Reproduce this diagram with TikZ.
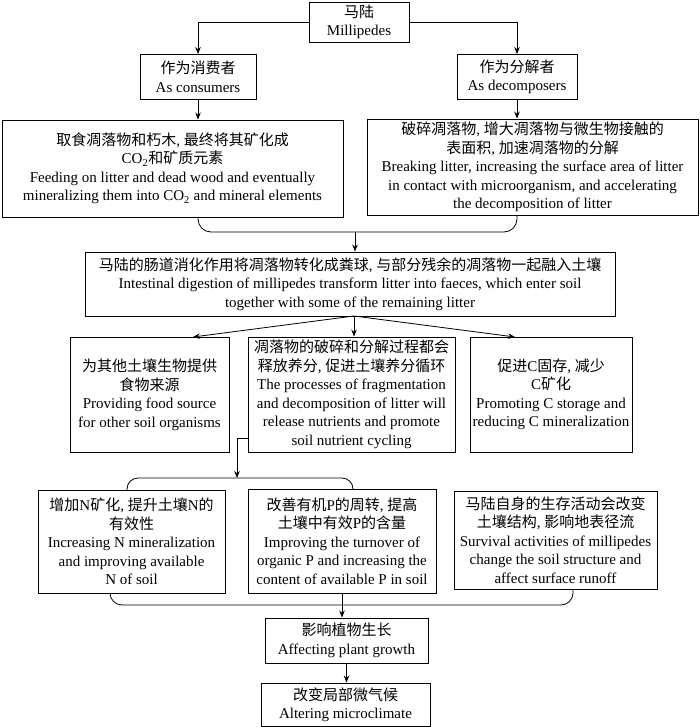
\documentclass[tikz,border=0pt]{standalone}
\usepackage{fontspec}
\setmainfont{Liberation Serif}
\newfontfamily\cjk{Noto Sans CJK SC}
\newcommand\zh[1]{{\cjk #1}}
\usetikzlibrary{arrows.meta}
\begin{document}
\begin{tikzpicture}[x=1pt,y=-1pt,
  box/.style={draw,line width=0.9pt,inner sep=0pt,align=center,
    font=\fontsize{15}{18.5}\selectfont},
  arr/.style={line width=0.8pt,-{Stealth[length=7pt,width=5.5pt]}},
  brace/.style={line width=0.8pt,rounded corners=13pt}]
\useasboundingbox (0,0) rectangle (700,727);

\node[box,minimum width=100pt,minimum height=40pt] (top) at (359,22)
  {\zh{马陆}\\Millipedes};
\node[box,minimum width=116pt,minimum height=45pt] (cons) at (198,77)
  {\zh{作为消费者}\\As consumers};
\node[box,minimum width=120pt,minimum height=45pt] (dec) at (517,77)
  {\zh{作为分解者}\\As decomposers};

\node[box,minimum width=341pt,minimum height=97pt] (feed) at (172.5,168.5)
  {\zh{取食凋落物和朽木}, \zh{最终将其矿化成}\\
   CO\textsubscript{2}\zh{和矿质元素}\\
   Feeding on litter and dead wood and eventually\\
   mineralizing them into CO\textsubscript{2} and mineral elements};
\node[box,minimum width=331pt,minimum height=96pt] (brk) at (532.5,167)
  {\zh{破碎凋落物}, \zh{增大凋落物与微生物接触的}\\
   \zh{表面积}, \zh{加速凋落物的分解}\\
   Breaking litter, increasing the surface area of litter\\
   in contact with microorganism, and accelerating\\
   the decomposition of litter};

\node[box,minimum width=530pt,minimum height=64pt] (intest) at (350,284)
  {\zh{马陆的肠道消化作用将凋落物转化成粪球}, \zh{与部分残余的凋落物一起融入土壤}\\
   Intestinal digestion of millipedes transform litter into faeces, which enter soil\\
   together with some of the remaining litter};

\node[box,minimum width=159pt,minimum height=115pt] (food) at (149.5,394.5)
  {\zh{为其他土壤生物提供}\\\zh{食物来源}\\Providing food source\\for other soil organisms};
\node[box,minimum width=207pt,minimum height=115pt] (frag) at (351.5,394.5)
  {\zh{凋落物的破碎和分解过程都会}\\\zh{释放养分}, \zh{促进土壤养分循环}\\
   The processes of fragmentation\\and decomposition of litter will\\
   release nutrients and promote\\soil nutrient cycling};
\node[box,minimum width=162pt,minimum height=115pt] (carbon) at (551,394.5)
  {\zh{促进}C\zh{固存}, \zh{减少}\\C\zh{矿化}\\Promoting C storage and\\reducing C mineralization};

\node[box,minimum width=187pt,minimum height=103pt] (nitro) at (131.5,541.5)
  {\zh{增加}N\zh{矿化}, \zh{提升土壤}N\zh{的}\\\zh{有效性}\\Increasing N mineralization\\
   and improving available\\N of soil};
\node[box,minimum width=188pt,minimum height=104pt] (phos) at (342,541)
  {\zh{改善有机}P\zh{的周转}, \zh{提高}\\\zh{土壤中有效}P\zh{的含量}\\
   Improving the turnover of\\organic P and increasing the\\content of available P in soil};
\node[box,minimum width=203pt,minimum height=98pt] (surv) at (555.5,540)
  {\zh{马陆自身的生存活动会改变}\\\zh{土壤结构}, \zh{影响地表径流}\\
   Survival activities of millipedes\\change the soil structure and\\affect surface runoff};

\node[box,minimum width=163pt,minimum height=45pt] (plant) at (346.5,640.5)
  {\zh{影响植物生长}\\Affecting plant growth};
\node[box,minimum width=169pt,minimum height=43pt] (micro) at (345.5,704.5)
  {\zh{改变局部微气候}\\Altering microclimate};

% top split
\draw[arr] (top.west) -| (cons.north);
\draw[arr] (top.east) -| (dec.north);
\draw[arr] (cons.south) -- (cons.south |- feed.north);
\draw[arr] (dec.south) -- (dec.south |- brk.north);

% brace 1
\coordinate (j1) at (355,232);
\draw[brace] (cons.south |- feed.south) -- (cons.south |- j1) -- (dec.south |- j1) -- (dec.south |- brk.south);
\draw[arr] (j1) -- (j1 |- intest.north);

% fan out
\coordinate (fan) at (354,316);
\coordinate (fl) at (193,337);
\coordinate (fr) at (515,337);
\draw[arr] (fan) -- (fl);
\draw[arr] (fan) -- (fan |- frag.north);
\draw[arr] (fan) -- (fr);

% elbow to brace 2
\coordinate (j2) at (237,478);
\draw[arr] ([yshift=-43.5pt]frag.west) -| (j2);
\draw[line width=0.8pt,rounded corners=11pt] (127,490) -- (127,478) -- (353,478) -- (353,489);

% brace 3
\draw[line width=0.8pt,rounded corners=12pt] (110,593) -- (110,605) -- (573,605) -- (573,589);
\draw[arr] (phos.south) -- (phos.south |- plant.north);
\draw[arr] (plant.south) -- (plant.south |- micro.north);
\end{tikzpicture}
\end{document}
